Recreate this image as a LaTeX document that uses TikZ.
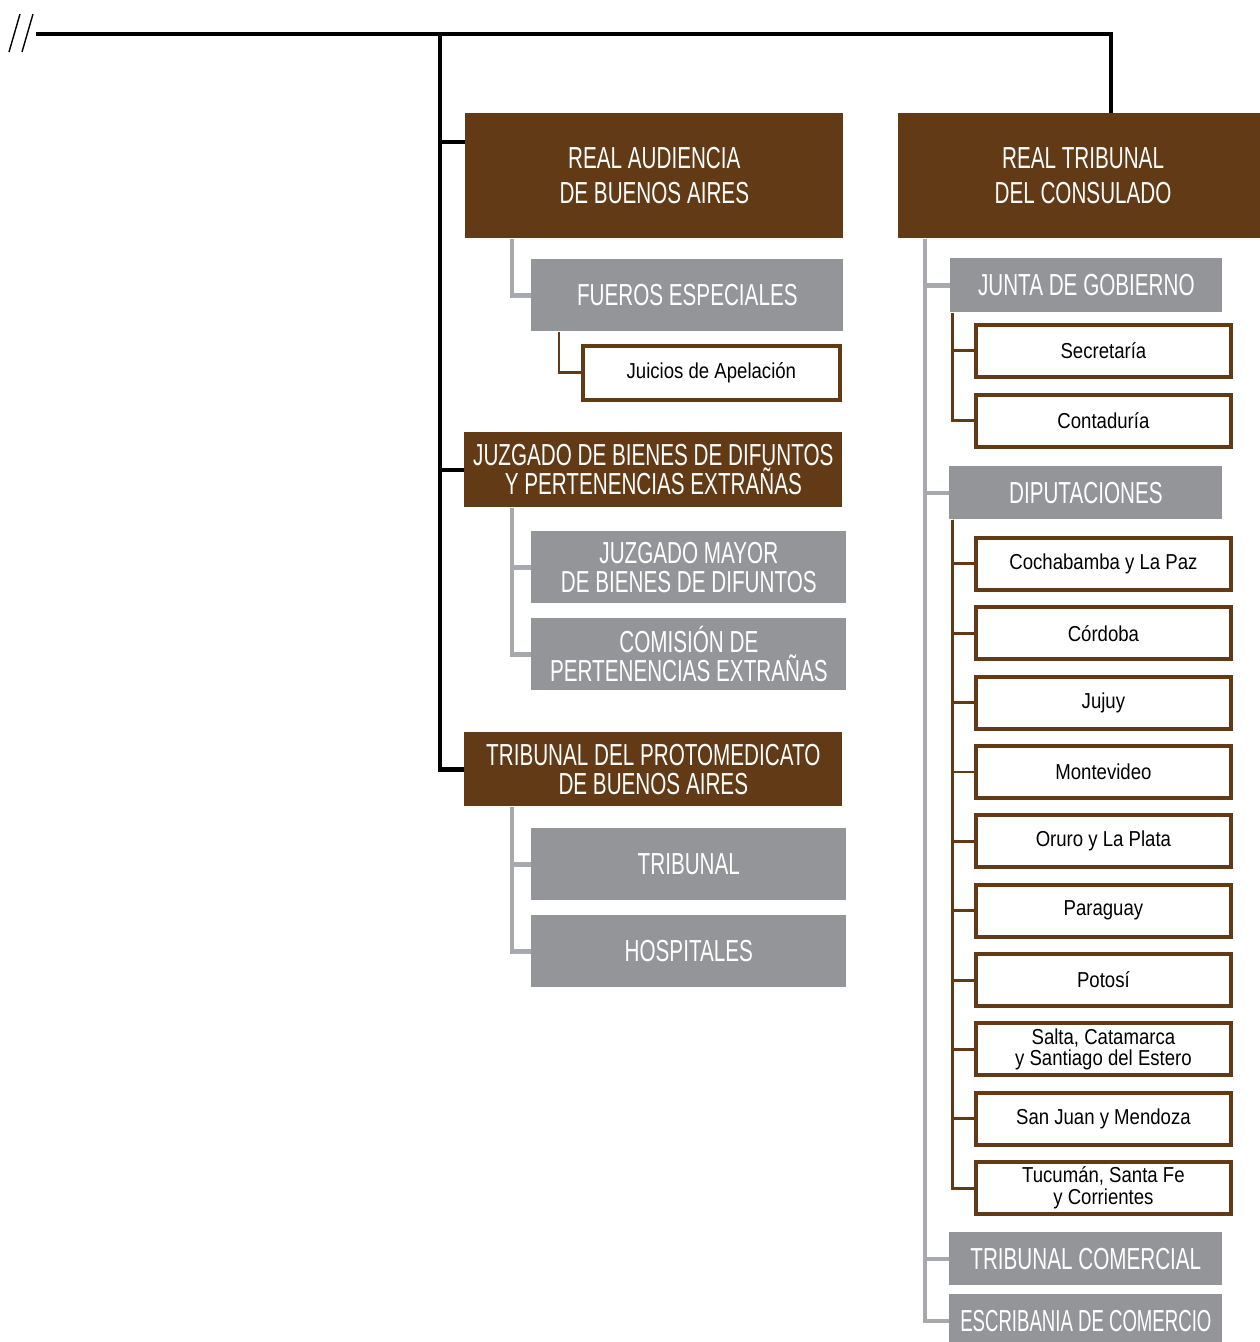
\documentclass[tikz,border=0pt]{standalone}
\usepackage{fontspec}
\setmainfont{Liberation Sans}[FakeStretch=0.86]
\newfontfamily\titulos{Liberation Sans}[FakeStretch=0.68]
\usetikzlibrary{positioning}
\definecolor{marron}{HTML}{623B16}
\definecolor{grisnodo}{HTML}{939598}
\definecolor{grislinea}{HTML}{A7A9AC}
\tikzset{
	cabecera/.style={rectangle, fill=marron, text=white, anchor=north west,
		font=\titulos\fontsize{17.3}{19.8}\selectfont, inner sep=0pt,
		minimum width=7.56cm, align=center},
	rama/.style={rectangle, fill=grisnodo, text=white, anchor=north west,
		font=\titulos\fontsize{17.3}{16.5}\selectfont, inner sep=0pt,
		align=center},
	hoja/.style={rectangle, draw=marron, line width=2.2pt, fill=white,
		font=\fontsize{12.3}{12.5}\selectfont, inner sep=0pt,
		minimum width=5.1cm, minimum height=1.04cm, align=center},
	tronco/.style={line width=2.5pt, black},
	lineagris/.style={line width=2.6pt, grislinea},
	lineamarron/.style={line width=1.7pt, marron}
}
\begin{document}
\begin{tikzpicture}[x=0.02cm, y=-0.02cm]
	\useasboundingbox (0,0) rectangle (1260,1342);
	
	\draw[line width=0.8pt] (9,52) -- (20,14) (22,52) -- (33,14);
	\coordinate (corte) at (36,34);
	\coordinate (raiz) at (440,34);
	\coordinate (codo) at (1111,34);
	
	\node[cabecera, minimum height=2.5cm] (audiencia) at (465,113) {REAL AUDIENCIA\\DE BUENOS AIRES};
	\node[rama, minimum width=6.24cm, minimum height=1.44cm] (fueros) at (531,259) {FUEROS ESPECIALES};
	\node[hoja, anchor=north west, minimum width=5.14cm, minimum height=1.08cm] (juicios) at (581,344) {Juicios de Apelación};
	
	\node[cabecera, minimum height=1.5cm, font=\titulos\fontsize{17.3}{16.4}\selectfont] (juzgado) at (464,432) {JUZGADO DE BIENES DE DIFUNTOS\\Y PERTENENCIAS EXTRAÑAS};
	\node[rama, minimum width=6.3cm, minimum height=1.44cm] (mayor) at (531,531) {JUZGADO MAYOR\\DE BIENES DE DIFUNTOS};
	\node[rama, minimum width=6.3cm, minimum height=1.44cm] (comision) at (531,618) {COMISIÓN DE\\PERTENENCIAS EXTRAÑAS};
	
	\node[cabecera, minimum height=1.48cm, font=\titulos\fontsize{17.3}{16.4}\selectfont] (proto) at (464,732) {TRIBUNAL DEL PROTOMEDICATO\\DE BUENOS AIRES};
	\node[rama, minimum width=6.3cm, minimum height=1.44cm] (tribunal) at (531,828) {TRIBUNAL};
	\node[rama, minimum width=6.3cm, minimum height=1.44cm] (hospitales) at (531,915) {HOSPITALES};
	
	\node[cabecera, minimum width=7.24cm, minimum height=2.5cm] (consulado) at (898,113) {\hspace{0.15cm}REAL TRIBUNAL\\\hspace{0.15cm}DEL CONSULADO};
	\node[rama, minimum width=5.44cm, minimum height=1.08cm] (junta) at (950,258) {JUNTA DE GOBIERNO};
	\node[hoja, anchor=north west] (secretaria) at (974,323) {Secretaría};
	\node[hoja, below=0.28cm of secretaria] (contaduria) {Contaduría};
	
	\node[rama, minimum width=5.46cm, minimum height=1.06cm] (diputaciones) at (949,466) {DIPUTACIONES};
	\node[hoja, anchor=north west] (cochabamba) at (974,536) {Cochabamba y La Paz};
	\node[hoja, below=0.27cm of cochabamba] (cordoba) {Córdoba};
	\node[hoja, below=0.27cm of cordoba] (jujuy) {Jujuy};
	\node[hoja, below=0.27cm of jujuy] (montevideo) {Montevideo};
	\node[hoja, below=0.27cm of montevideo] (oruro) {Oruro y La Plata};
	\node[hoja, below=0.27cm of oruro] (paraguay) {Paraguay};
	\node[hoja, below=0.27cm of paraguay] (potosi) {Potosí};
	\node[hoja, below=0.27cm of potosi] (salta) {Salta, Catamarca\\y Santiago del Estero};
	\node[hoja, below=0.27cm of salta] (sanjuan) {San Juan y Mendoza};
	\node[hoja, below=0.27cm of sanjuan] (tucuman) {Tucumán, Santa Fe\\y Corrientes};
	
	\node[rama, minimum width=5.46cm, minimum height=1.06cm] (comercial) at (949,1232) {TRIBUNAL COMERCIAL};
	\node[rama, minimum width=5.46cm, minimum height=1.06cm] (escribania) at (949,1294) {\scalebox{0.9}[1]{ESCRIBANIA DE COMERCIO}};
	
	% tronco principal
	\coordinate (entrada) at ([yshift=-0.58cm]audiencia.north west);
	\draw[tronco] (corte) -- (codo) -- (codo |- consulado.north);
	\draw[tronco] (raiz) |- (proto.west);
	\draw[tronco] (raiz |- entrada) -- (entrada);
	\draw[tronco] (raiz |- juzgado.west) -- (juzgado.west);
	
	% columna izquierda
	\draw[lineagris] ([xshift=0.94cm]audiencia.south west) |- (fueros.west);
	\draw[lineamarron] ([xshift=0.56cm]fueros.south west) |- (juicios.west);
	\draw[lineagris] ([xshift=0.96cm]juzgado.south west) |- (mayor.west);
	\draw[lineagris] ([xshift=0.96cm]juzgado.south west) |- (comision.west);
	\draw[lineagris] ([xshift=0.96cm]proto.south west) |- (tribunal.west);
	\draw[lineagris] ([xshift=0.96cm]proto.south west) |- (hospitales.west);
	
	% columna derecha
	\draw[lineagris] ([xshift=0.54cm]consulado.south west) |- (junta.west);
	\draw[lineagris] ([xshift=0.54cm]consulado.south west) |- (diputaciones.west);
	\draw[lineagris] ([xshift=0.54cm]consulado.south west) |- (comercial.west);
	\draw[lineagris] ([xshift=0.54cm]consulado.south west) |- (escribania.west);
	\draw[lineamarron] ([xshift=0.04cm]junta.south west) |- (secretaria.west);
	\draw[lineamarron] ([xshift=0.04cm]junta.south west) |- (contaduria.west);
	\draw[lineamarron] ([xshift=0.06cm]diputaciones.south west) |- (cochabamba.west);
	\draw[lineamarron] ([xshift=0.06cm]diputaciones.south west) |- (cordoba.west);
	\draw[lineamarron] ([xshift=0.06cm]diputaciones.south west) |- (jujuy.west);
	\draw[lineamarron] ([xshift=0.06cm]diputaciones.south west) |- (montevideo.west);
	\draw[lineamarron] ([xshift=0.06cm]diputaciones.south west) |- (oruro.west);
	\draw[lineamarron] ([xshift=0.06cm]diputaciones.south west) |- (paraguay.west);
	\draw[lineamarron] ([xshift=0.06cm]diputaciones.south west) |- (potosi.west);
	\draw[lineamarron] ([xshift=0.06cm]diputaciones.south west) |- (salta.west);
	\draw[lineamarron] ([xshift=0.06cm]diputaciones.south west) |- (sanjuan.west);
	\draw[lineamarron] ([xshift=0.06cm]diputaciones.south west) |- (tucuman.west);
\end{tikzpicture}
\end{document}
